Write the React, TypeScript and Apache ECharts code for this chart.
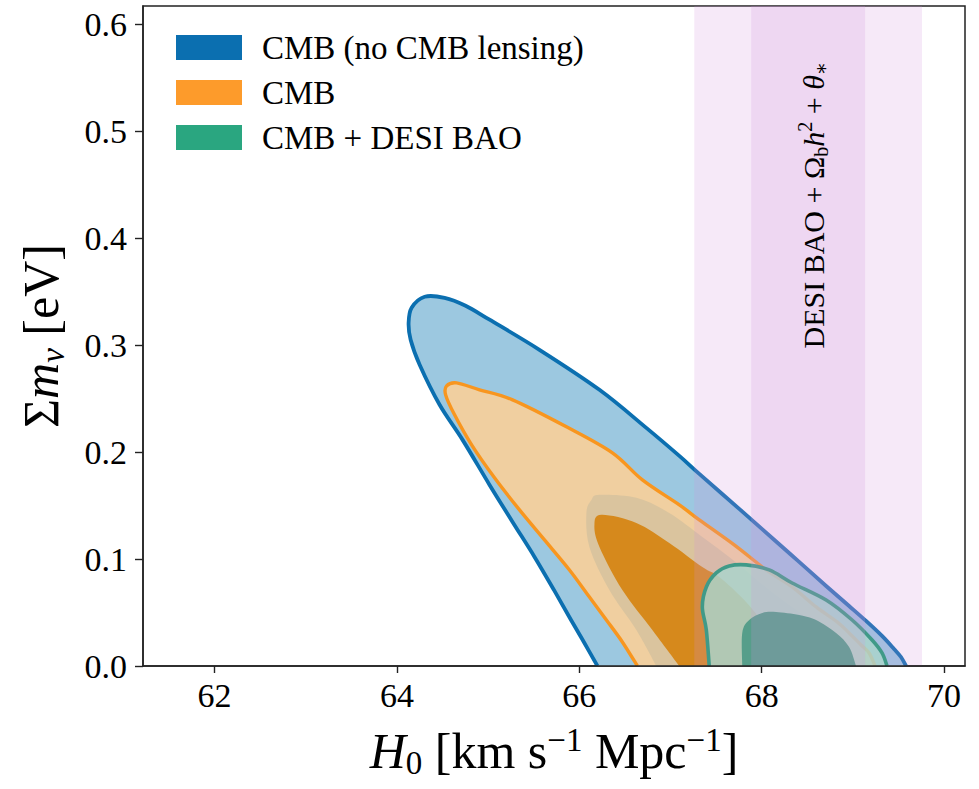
import React, { useEffect, useRef } from 'react';
import * as echarts from 'echarts';

// ---------- data (H0 [km/s/Mpc], sum m_nu [eV]) ----------
const X_TICKS = [62, 64, 66, 68, 70];
const Y_TICKS = [0, 0.1, 0.2, 0.3, 0.4, 0.5, 0.6];
const X_RANGE = [61.215, 70.23];
const Y_RANGE = [0, 0.617];

const LEGEND_NAMES = ['CMB (no CMB lensing)', 'CMB', 'CMB + DESI BAO'];

// CMB (no CMB lensing) 95% contour
const cmbNoLensing95 = [
  [66.199, 0], [66.056, 0.0215], [65.903, 0.044], [65.728, 0.0702], [65.509, 0.102],
  [65.268, 0.1347], [65.016, 0.1693], [64.72, 0.2114], [64.468, 0.2442], [64.249, 0.2816],
  [64.15, 0.305], [64.128, 0.3209], [64.161, 0.3349], [64.304, 0.3452], [64.523, 0.3442],
  [64.753, 0.3368], [65.016, 0.3237], [65.563, 0.2956], [66.221, 0.2582], [66.735, 0.2226],
  [67.097, 0.1964], [67.316, 0.1796], [67.754, 0.1469], [68.115, 0.1197], [68.411, 0.0973],
  [68.707, 0.0748], [68.959, 0.0561], [69.145, 0.0421], [69.32, 0.0281], [69.452, 0.0159],
  [69.528, 0.0084], [69.583, 0],
];
// CMB (no CMB lensing) 68% contour
const cmbNoLensing68 = [
  [66.845, 0], [66.626, 0.0337], [66.33, 0.0711], [66.111, 0.1113], [66.078, 0.1431],
  [66.133, 0.1553], [66.221, 0.16], [66.626, 0.1572], [66.987, 0.1431], [67.349, 0.1207],
  [67.644, 0.102], [68.083, 0.0711], [68.411, 0.0505], [68.74, 0.029], [68.959, 0.0131],
  [69.046, 0],
];
// CMB 95% contour
const cmb95 = [
  [66.637, 0], [66.472, 0.0225], [66.297, 0.043], [66.111, 0.0645], [65.892, 0.0898],
  [65.618, 0.1179], [65.344, 0.1459], [65.07, 0.1759], [64.819, 0.2067], [64.632, 0.2348],
  [64.534, 0.2535], [64.545, 0.2619], [64.654, 0.2647], [64.906, 0.2582], [65.268, 0.2488],
  [65.859, 0.2236], [66.363, 0.1993], [66.692, 0.174], [67.097, 0.1506], [67.316, 0.1366],
  [67.699, 0.1132], [68.05, 0.0898], [68.334, 0.0739], [68.597, 0.0552], [68.827, 0.0412],
  [68.959, 0.0309], [69.09, 0.0196], [69.178, 0.0122], [69.244, 0],
];
// CMB 68% contour
const cmb68 = [
  [67.097, 0], [66.801, 0.0337], [66.472, 0.0711], [66.221, 0.1113], [66.166, 0.1319],
  [66.242, 0.1413], [66.626, 0.1338], [66.987, 0.1151], [67.349, 0.0926], [67.535, 0.0833],
  [67.809, 0.0617], [68.028, 0.0384], [68.17, 0.015], [68.214, 0],
];
// CMB + DESI BAO 95% contour
const cmbDesi95 = [
  [67.425, 0], [67.393, 0.0337], [67.349, 0.0552], [67.393, 0.0739], [67.502, 0.087],
  [67.644, 0.0935], [67.831, 0.0945], [68.083, 0.0898], [68.334, 0.0776], [68.707, 0.0617],
  [68.992, 0.043], [69.211, 0.0243], [69.32, 0.0122], [69.375, 0],
];
// CMB + DESI BAO 68% contour
const cmbDesi68 = [
  [67.787, 0], [67.787, 0.0309], [67.863, 0.043], [68.006, 0.0496], [68.159, 0.0505],
  [68.411, 0.0477], [68.597, 0.043], [68.816, 0.0309], [68.959, 0.0178], [69.035, 0],
];
// DESI BAO + Omega_b h^2 + theta_* : 95% and 68% H0 intervals
const desiBands = [
  [67.261, 69.758],
  [67.885, 69.134],
];

// ---------- styles ----------
const SERIF = '"Liberation Serif", "DejaVu Serif", "Times New Roman", serif';
const BLUE = '#0b6fb0';
const ORANGE = '#f8961f';
const GREEN = '#1c9d74';

// Catmull-Rom spline through pixel points -> cubic bezier path string (rendering only)
function splinePath(pts: number[][]): string {
  const n = pts.length;
  let d = `M${pts[0][0].toFixed(2)},${pts[0][1].toFixed(2)}`;
  for (let i = 0; i < n - 1; i++) {
    const p0 = pts[Math.max(i - 1, 0)];
    const p1 = pts[i];
    const p2 = pts[i + 1];
    const p3 = pts[Math.min(i + 2, n - 1)];
    const c1x = p1[0] + (p2[0] - p0[0]) / 6;
    const c1y = p1[1] + (p2[1] - p0[1]) / 6;
    const c2x = p2[0] - (p3[0] - p1[0]) / 6;
    const c2y = p2[1] - (p3[1] - p1[1]) / 6;
    d += ` C${c1x.toFixed(2)},${c1y.toFixed(2)} ${c2x.toFixed(2)},${c2y.toFixed(2)} ${p2[0].toFixed(2)},${p2[1].toFixed(2)}`;
  }
  return d;
}

function contourSeries(name: string, pts: number[][], fill: string, stroke: string | null, lw = 3.4) {
  return {
    type: 'custom',
    name,
    silent: true,
    clip: true,
    data: pts,
    encode: { x: 0, y: 1 },
    renderItem: (params: any, api: any) => {
      if (params.dataIndex !== 0) return null;
      const coords = pts.map((p) => api.coord(p));
      const open = splinePath(coords);
      const children: any[] = [
        { type: 'path', shape: { pathData: open + ' Z' }, style: { fill, stroke: 'none' } },
      ];
      if (stroke) {
        children.push({
          type: 'path',
          shape: { pathData: open },
          style: { fill: 'none', stroke, lineWidth: lw, lineJoin: 'round', lineCap: 'butt' },
        });
      }
      return { type: 'group', children };
    },
  };
}

function buildOption() {
  const richMain = (size: number) => ({
    n: { fontFamily: SERIF, fontSize: size, lineHeight: size + 6, color: '#000' },
    it: { fontFamily: SERIF, fontSize: size, lineHeight: size + 6, fontStyle: 'italic', color: '#000' },
    sub: { fontFamily: SERIF, fontSize: Math.round(size * 0.66), lineHeight: Math.round(size * 0.66), verticalAlign: 'bottom', color: '#000' },
    sup: { fontFamily: SERIF, fontSize: Math.round(size * 0.66), lineHeight: Math.round(size * 0.66), verticalAlign: 'top', color: '#000' },
    itsub: { fontFamily: SERIF, fontSize: Math.round(size * 0.66), lineHeight: Math.round(size * 0.66), verticalAlign: 'bottom', fontStyle: 'italic', color: '#000' },
  });

  return {
    animation: false,
    backgroundColor: '#ffffff',
    grid: {
      left: 143, right: 14, top: 6, bottom: 123,
      show: true, borderColor: '#222', borderWidth: 1.5, backgroundColor: 'transparent',
      containLabel: false, outerBoundsMode: 'none',
    },
    legend: {
      orient: 'vertical',
      left: 171,
      top: 26,
      itemWidth: 66,
      itemHeight: 25,
      itemGap: 12,
      selectedMode: false,
      textStyle: { fontFamily: SERIF, fontSize: 33, color: '#000', padding: [0, 0, 0, 15] },
      data: [
        { name: LEGEND_NAMES[0], icon: 'rect', itemStyle: { color: BLUE } },
        { name: LEGEND_NAMES[1], icon: 'rect', itemStyle: { color: '#fd9b2b' } },
        { name: LEGEND_NAMES[2], icon: 'rect', itemStyle: { color: '#2aa680' } },
      ],
    },
    xAxis: {
      type: 'value',
      min: X_RANGE[0],
      max: X_RANGE[1],
      z: 10,
      splitLine: { show: false },
      axisLine: { show: true, onZero: false, lineStyle: { color: '#222', width: 1.5 } },
      axisTick: { show: true, inside: false, length: 7, customValues: X_TICKS, lineStyle: { color: '#222', width: 1.4 } },
      axisLabel: {
        customValues: X_TICKS,
        margin: 12,
        fontFamily: SERIF,
        fontSize: 34,
        color: '#000',
        formatter: (v: number) => String(Math.round(v)),
      },
      name: '{it|H}{sub|0}{n| [km s}{sup|−1}{n| Mpc}{sup|−1}{n|]}',
      nameLocation: 'middle',
      nameGap: 57,
      nameTextStyle: { fontFamily: SERIF, fontSize: 50, color: '#000', rich: richMain(50) },
    },
    yAxis: {
      type: 'value',
      min: Y_RANGE[0],
      max: Y_RANGE[1],
      z: 10,
      splitLine: { show: false },
      axisLine: { show: true, onZero: false, lineStyle: { color: '#222', width: 1.5 } },
      axisTick: { show: true, inside: false, length: 8, customValues: Y_TICKS, lineStyle: { color: '#222', width: 1.4 } },
      axisLabel: {
        customValues: Y_TICKS,
        margin: 16,
        fontFamily: SERIF,
        fontSize: 34,
        color: '#000',
        formatter: (v: number) => v.toFixed(1),
      },
      name: '{n|Σ}{it|m}{itsub|ν}{n| [eV]}',
      nameLocation: 'middle',
      nameRotate: 90,
      nameGap: 74,
      nameTextStyle: { fontFamily: SERIF, fontSize: 50, color: '#000', rich: richMain(50) },
    },
    series: [
      contourSeries(LEGEND_NAMES[0], cmbNoLensing95, '#9cc8e0', BLUE, 3.8),
      contourSeries(LEGEND_NAMES[1], cmb95, '#f0cfa0', ORANGE, 3.4),
      contourSeries(LEGEND_NAMES[0], cmbNoLensing68, '#dac49e', null),
      contourSeries(LEGEND_NAMES[1], cmb68, '#d6891c', null),
      contourSeries(LEGEND_NAMES[2], cmbDesi95, 'rgba(160,230,200,0.83)', GREEN, 3.6),
      contourSeries(LEGEND_NAMES[2], cmbDesi68, 'rgb(55,162,118)', null),
      {
        type: 'custom',
        name: 'DESI band',
        silent: true,
        data: desiBands,
        encode: { x: [0, 1] },
        renderItem: (params: any, api: any) => {
          const x1 = api.value(0);
          const x2 = api.value(1);
          const tl = api.coord([x1, Y_RANGE[1]]);
          const br = api.coord([x2, Y_RANGE[0]]);
          return {
            type: 'rect',
            shape: { x: tl[0], y: tl[1], width: br[0] - tl[0], height: br[1] - tl[1] },
            style: { fill: 'rgba(210,145,220,0.2)' },
          };
        },
      },
    ],
    graphic: [
      {
        type: 'text',
        x: 813,
        y: 205,
        rotation: Math.PI / 2,
        z: 20,
        style: {
          text: '{n|DESI BAO + Ω}{sub|b}{it|h}{sup|2}{n| + }{it|θ}{sub|∗}',
          align: 'center',
          verticalAlign: 'middle',
          fontFamily: SERIF,
          fontSize: 30,
          fill: '#000',
          rich: richMain(30),
        },
      },
    ],
  };
}

export default function App() {
  const ref = useRef<HTMLDivElement>(null);
  useEffect(() => {
    document.body.style.margin = '0';
    if (!ref.current) return;
    const chart = echarts.init(ref.current, null, { renderer: 'svg' });
    chart.setOption(buildOption() as any);
    return () => chart.dispose();
  }, []);
  return <div ref={ref} style={{ width: 979, height: 789 }} />;
}
